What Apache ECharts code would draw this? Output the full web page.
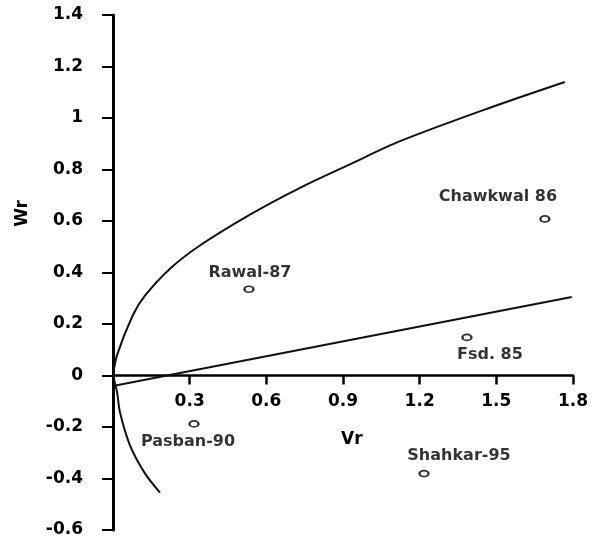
<!DOCTYPE html>
<html>
<head>
<meta charset="utf-8">
<script src="https://cdn.jsdelivr.net/npm/echarts@6/dist/echarts.min.js"></script>
<style>html,body{margin:0;padding:0;background:#fff}#c{width:597px;height:546px}</style>
</head>
<body>
<div id="c"></div>
<script>
// Limiting parabola, upper branch (Vr, Wr)
var upperCurve = [[0,0],[0.016,0.08],[0.078,0.235],[0.125,0.31],[0.223,0.415],[0.34,0.505],[0.536,0.625],[0.73,0.728],[0.927,0.82],[1.123,0.91],[1.475,1.04],[1.768,1.14]];
// Lower branch
var lowerCurve = [[0,0],[0.016,-0.065],[0.027,-0.142],[0.066,-0.27],[0.125,-0.38],[0.184,-0.455]];
// Regression line end points
var regLine = [[0.005,-0.04],[1.795,0.305]];
// Parents
var names = ['Chawkwal 86','Rawal-87','Fsd. 85','Pasban-90','Shahkar-95'];
var vr = [1.69, 0.532, 1.385, 0.317, 1.217];
var wr = [0.608, 0.335, 0.148, -0.188, -0.381];
var labelOffsets = [[-47,-22],[1,-16],[23,17],[-6,18],[35,-18]];
var xTicks = [0.3,0.6,0.9,1.2,1.5,1.8];
var yMin = -0.6, yMax = 1.4;

var font = 'DejaVu Sans';
var chart = echarts.init(document.getElementById('c'));
var pts = names.map(function(n,i){
  return {name:n, value:[vr[i],wr[i]],
    label:{show:true, formatter:n, position:'inside', offset:labelOffsets[i],
      color:'#000', fontFamily:font, fontWeight:'bold', fontSize:16, align:'center', verticalAlign:'middle'}};
});
var option = {
  animation:false,
  backgroundColor:'#fff',
  grid:{left:113, right:24, top:15, bottom:16, containLabel:false, outerBoundsMode:'none'},
  xAxis:{type:'value', min:0, max:1.8, interval:0.3, offset:0,
    axisLine:{onZero:false, lineStyle:{color:'#000', width:2.5}},
    axisTick:{show:true, length:9, inside:false, lineStyle:{color:'#000', width:2.5}},
    axisLabel:{margin:18, color:'#000', fontFamily:font, fontWeight:'bold', fontSize:17,
      showMinLabel:false,
      formatter:function(v){ for (var i=0;i<xTicks.length;i++){ if (Math.abs(xTicks[i]-v)<1e-6) return xTicks[i].toFixed(1);} return ''; }},
    splitLine:{show:false}},
  yAxis:{type:'value', min:yMin, max:yMax, interval:0.2,
    axisLine:{onZero:false, lineStyle:{color:'#000', width:3}},
    axisTick:{show:true, length:11, lineStyle:{color:'#000', width:2}},
    axisLabel:{margin:30, color:'#000', fontFamily:font, fontWeight:'bold', fontSize:17,
      formatter:function(v){ return String(Math.round(v*10)/10); }},
    splitLine:{show:false}},
  graphic:[
    {type:'text', left:14, top:200, rotation:Math.PI/2, origin:[0,0],
      style:{text:'Wr', fill:'#000', font:'bold 17px "DejaVu Sans"'}},
    {type:'text', left:341, top:431, style:{text:'Vr', fill:'#000', font:'bold 17px "DejaVu Sans"'}}
  ],
  series:[
    {type:'line', data:upperCurve, smooth:0.3, showSymbol:false, lineStyle:{color:'#111', width:2}},
    {type:'line', data:lowerCurve, smooth:0.3, showSymbol:false, lineStyle:{color:'#111', width:2}},
    {type:'line', data:regLine, showSymbol:false, lineStyle:{color:'#111', width:2}},
    {type:'scatter', data:pts, symbol:'emptyCircle', symbolSize:[9,6],
      itemStyle:{color:'#000', borderColor:'#000', borderWidth:1.2}}
  ]
};
chart.setOption(option);
// move the x axis (line, ticks, labels) to Wr = 0
var yBottom = chart.convertToPixel({yAxisIndex:0}, yMin);
var yZero = chart.convertToPixel({yAxisIndex:0}, 0);
chart.setOption({xAxis:{offset: yZero - yBottom}});
</script>
</body>
</html>
